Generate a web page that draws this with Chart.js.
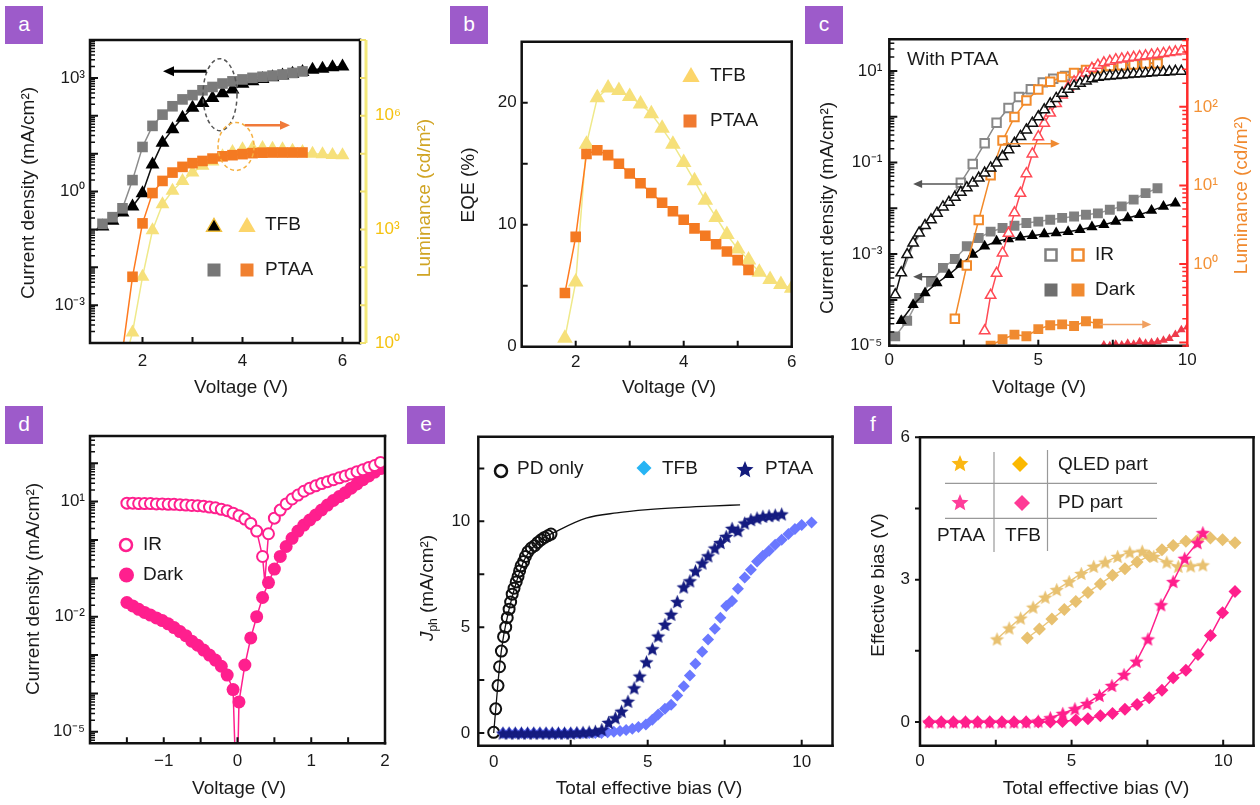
<!DOCTYPE html>
<html>
<head>
<meta charset="utf-8">
<title>QLED / PD device characteristics</title>
<script src="https://cdn.jsdelivr.net/npm/chart.js@4.4.1/dist/chart.umd.min.js"></script>
<style>
  body { margin: 0; width: 1260px; height: 805px; position: relative; overflow: hidden; background: #fff; font-family: "Liberation Sans", Arial, sans-serif; }
  canvas { position: absolute; }
  .tag { position: absolute; width: 38px; height: 38px; background: #9d5bca; color: #fff; font-size: 21px; line-height: 35px; text-align: center; }
</style>
</head>
<body>
<div class="tag" style="left:5px;top:6px">a</div>
<div class="tag" style="left:450px;top:6px">b</div>
<div class="tag" style="left:805px;top:6px">c</div>
<div class="tag" style="left:5px;top:406px">d</div>
<div class="tag" style="left:407px;top:406px">e</div>
<div class="tag" style="left:854px;top:406px">f</div>
<script>
// ---- panel a: J-V-L ----
const aV_PTAA = [1.2,1.4,1.6,1.8,2.0,2.2,2.4,2.6,2.8,3.0,3.2,3.4,3.6,3.8,4.0,4.2,4.4,4.6,4.8,5.0,5.2];
const aJ_PTAA = [0.14,0.21,0.36,2.0,15,54,107,178,270,350,470,575,710,810,910,1000,1070,1150,1230,1350,1480];
const aV_TFB = [1.2,1.4,1.6,1.8,2.0,2.2,2.4,2.6,2.8,3.0,3.2,3.4,3.6,3.8,4.0,4.2,4.4,4.6,4.8,5.0,5.2,5.4,5.6,5.8,6.0];
const aJ_TFB = [0.12,0.17,0.28,0.4,0.9,5.2,19.5,44,89,162,218,295,390,490,700,820,930,1040,1150,1280,1420,1650,1750,1900,2000];
const aVL_PTAA = [1.6,1.8,2.0,2.2,2.4,2.6,2.8,3.0,3.2,3.4,3.6,3.8,4.0,4.2,4.4,4.6,4.8,5.0,5.2];
const aL_PTAA = [0.6,56,1440,9100,19000,31600,44700,56000,64000,74000,85000,91000,97000,103000,106000,107000,107000,107000,107000];
const aVL_TFB = [1.6,1.8,2.0,2.2,2.4,2.6,2.8,3.0,3.2,3.4,3.6,3.8,4.0,4.2,4.4,4.6,4.8,5.0,5.2,5.4,5.6,5.8,6.0];
const aL_TFB = [0.2,1.9,56,950,4600,10500,19000,31600,48000,62000,85000,110000,130000,140000,140000,135000,130000,120000,110000,100000,97000,92000,90000];

// ---- panel b: EQE ----
const bV_TFB = [1.8,2.0,2.2,2.4,2.6,2.8,3.0,3.2,3.4,3.6,3.8,4.0,4.2,4.4,4.6,4.8,5.0,5.2,5.4,5.6,5.8,6.0];
const bEQE_TFB = [0.7,5.3,16.6,20.4,21.2,21.0,20.5,19.9,19.1,17.9,16.6,15.1,13.6,12.0,10.6,9.2,8.0,7.1,6.1,5.5,5.1,4.8];
const bV_PTAA = [1.8,2.0,2.2,2.4,2.6,2.8,3.0,3.2,3.4,3.6,3.8,4.0,4.2,4.4,4.6,4.8,5.0,5.2];
const bEQE_PTAA = [4.4,9.0,15.8,16.1,15.7,15.0,14.2,13.4,12.6,11.8,11.1,10.4,9.7,9.1,8.4,7.8,7.1,6.3];

// ---- panel c: with PTAA, IR / dark ----
const cV_IR_TFB = [0.2,0.4,0.6,0.8,1.0,1.2,1.4,1.6,1.8,2.0,2.2,2.4,2.6,2.8,3.0,3.2,3.4,3.6,3.8,4.0,4.2,4.4,4.6,4.8,5.0,5.2,5.4,5.6,5.8,6.0,6.2,6.4,6.6,6.8,7.0,7.2,7.4,7.6,7.8,8.0,8.2,8.4,8.6,8.8,9.0,9.2,9.4,9.6,9.8];
const cJ_IR_TFB = [1.29e-4,3.9e-4,9.8e-4,1.74e-3,2.9e-3,4.2e-3,5.6e-3,7.8e-3,0.0107,0.0135,0.0174,0.0224,0.0282,0.0355,0.0457,0.0589,0.0759,0.0977,0.135,0.191,0.263,0.372,0.513,0.724,1.0,1.41,1.91,2.51,3.24,3.98,4.68,5.37,6.03,6.76,7.24,7.59,7.76,7.94,8.13,8.32,8.51,8.71,8.91,9.12,9.33,9.33,9.55,9.77,9.77];
const cV_IR_PTAA = [0.4,0.8,1.2,1.6,2.0,2.4,2.8,3.2,3.6,4.0,4.35,4.75,5.15,5.5,5.9,6.3,6.65,7.05,7.45,7.85,8.25,8.6,9.0];
const cJ_IR_PTAA = [3.5e-4,1.6e-3,4.0e-3,7.6e-3,0.0141,0.0363,0.0933,0.263,0.741,1.55,2.69,3.98,5.62,6.76,7.76,8.91,10.0,11.5,12.3,13.2,14.1,14.8,15.1];
const cVL_IR_PTAA = [2.2,2.6,3.0,3.4,3.8,4.2,4.6,5.0,5.4,5.8,6.2,6.6,7.0,7.4,7.8,8.2,8.6,9.0];
const cL_IR_PTAA = [0.2,0.955,3.63,13.5,37.2,74.1,120,166,209,240,269,295,309,331,339,347,355,355];
const cVL_IR_TFB = [3.2,3.4,3.6,3.8,4.0,4.2,4.4,4.6,4.8,5.0,5.2,5.4,5.6,5.8,6.0,6.2,6.4,6.6,6.8,7.0,7.2,7.4,7.6,7.8,8.0,8.2,8.4,8.6,8.8,9.0,9.2,9.4,9.6,9.8];
const cL_IR_TFB = [0.141,0.398,0.759,1.38,2.45,4.47,7.94,14.1,25.1,41.7,61.7,83.2,110,141,178,209,240,269,309,339,363,380,398,407,417,427,437,447,457,468,479,490,501,513];
const cV_Dark_PTAA = [0.2,0.6,1.0,1.4,1.8,2.2,2.6,3.0,3.4,3.8,4.2,4.6,5.0,5.4,5.8,6.2,6.6,7.0,7.4,7.8,8.2,8.6,9.0];
const cJ_Dark_PTAA = [1.6e-5,3.5e-5,1.1e-4,2.5e-4,5.0e-4,7.8e-4,1.48e-3,2.24e-3,3.09e-3,3.72e-3,4.17e-3,4.79e-3,5.13e-3,5.62e-3,6.17e-3,6.61e-3,7.24e-3,7.76e-3,9.33e-3,0.011,0.0155,0.0214,0.0275];
const cV_Dark_TFB = [0.4,0.8,1.2,1.6,2.0,2.4,2.8,3.2,3.6,4.0,4.4,4.8,5.2,5.6,6.0,6.4,6.8,7.2,7.6,8.0,8.4,8.8,9.2,9.6];
const cJ_Dark_TFB = [3.5e-5,7.8e-5,1.41e-4,2.34e-4,3.55e-4,5.9e-4,9.8e-4,1.48e-3,1.91e-3,2.14e-3,2.34e-3,2.51e-3,2.75e-3,2.88e-3,3.09e-3,3.39e-3,3.89e-3,4.37e-3,5.13e-3,6.17e-3,7.24e-3,8.91e-3,0.011,0.0129];
const cVL_Dark_PTAA = [3.4,3.8,4.2,4.6,5.0,5.4,5.8,6.2,6.6,7.0];
const cL_Dark_PTAA = [0.091,0.11,0.126,0.12,0.148,0.166,0.17,0.162,0.186,0.174];
const cVL_Dark_TFB = [7.2,7.4,7.6,7.8,8.0,8.2,8.4,8.6,8.8,9.0,9.2,9.4,9.6,9.8,10.0];
const cL_Dark_TFB = [0.093,0.091,0.095,0.093,0.098,0.095,0.102,0.098,0.1,0.102,0.107,0.112,0.126,0.145,0.158];

// ---- panel d: PD J-V ----
const dV = [-1.5,-1.42,-1.34,-1.26,-1.18,-1.1,-1.02,-0.94,-0.86,-0.78,-0.7,-0.62,-0.54,-0.46,-0.38,-0.3,-0.22,-0.14,-0.06,0.02,0.1,0.18,0.26,0.34,0.42,0.5,0.58,0.66,0.74,0.82,0.9,0.98,1.06,1.14,1.22,1.3,1.38,1.46,1.54,1.62,1.7,1.78,1.86,1.94];
const dJ_IR = [9.1,9.1,8.9,8.9,8.9,8.7,8.7,8.5,8.5,8.3,8.1,7.9,7.8,7.6,7.2,6.9,6.3,5.8,5.0,4.3,3.5,2.7,1.7,0.37,1.45,3.7,6.0,8.7,11.7,14.8,18.6,22.4,25.7,29.5,33.1,37.2,41.7,46.8,52.5,60.3,67.6,77.6,87.1,105];
const dJ_Dark = [0.0234,0.0191,0.0155,0.0129,0.011,0.0093,0.0079,0.0065,0.0052,0.0041,0.0032,0.0023,0.0018,0.00135,0.001,0.00074,0.00051,0.0003,0.000126,0.00006,0.00055,0.0028,0.01,0.0316,0.0776,0.174,0.372,0.676,1.10,1.70,2.45,3.31,4.47,6.03,8.13,10.7,13.5,17.0,22.4,28.8,37.2,46.8,58.9,72.4];
const dIR_min = { x: 0.37, y: 0.08 };
const dDark_min = { x: -0.01, y: 1e-7 };

// ---- panel e: photocurrent ----
const ePD_V = [0,0.065,0.14,0.19,0.25,0.32,0.39,0.44,0.5,0.55,0.6,0.66,0.73,0.79,0.84,0.89,0.97,1.03,1.11,1.22,1.33,1.43,1.54,1.65,1.76,1.86];
const ePD_J = [0.03,1.14,2.24,3.13,3.87,4.55,5.0,5.45,5.85,6.19,6.56,6.84,7.14,7.39,7.66,7.9,8.1,8.34,8.56,8.74,8.85,9.0,9.13,9.24,9.32,9.4];
const eFit_V = [0,0.1,0.2,0.3,0.5,0.75,1.0,1.5,2.0,3.0,4.0,5.0,6.0,7.0,8.0];
const eFit_J = [0,1.7,3.3,4.4,5.85,7.2,8.2,9.1,9.5,10.15,10.4,10.55,10.65,10.72,10.78];
const ePTAA_V = [0.3,0.5,0.7,0.9,1.1,1.3,1.5,1.7,1.9,2.1,2.3,2.5,2.7,2.9,3.1,3.3,3.51,3.73,3.95,4.15,4.36,4.56,4.74,4.96,5.15,5.34,5.56,5.76,5.96,6.17,6.37,6.55,6.77,6.96,7.18,7.36,7.55,7.74,7.93,8.15,8.35,8.55,8.74,8.94,9.14,9.35];
const ePTAA_J = [0,0,0,0,0,0,0,0,0,0,0,0,0.02,0.03,0.05,0.08,0.16,0.5,0.72,1.03,1.5,2.13,2.69,3.36,3.98,4.58,5.13,5.61,6.21,6.9,7.19,7.66,8.03,8.37,8.74,9.0,9.29,9.67,9.56,9.92,10.08,10.16,10.24,10.27,10.3,10.35];
const eTFB_V = [0.3,0.5,0.7,0.9,1.1,1.3,1.5,1.7,1.9,2.1,2.3,2.5,2.7,2.9,3.1,3.3,3.5,3.7,3.9,4.1,4.3,4.5,4.7,4.94,5.15,5.34,5.56,5.76,5.96,6.17,6.37,6.55,6.77,6.96,7.18,7.36,7.55,7.74,7.93,8.15,8.35,8.55,8.74,8.94,9.14,9.35,9.57,9.78,10.0,10.32];
const eTFB_J = [0,0,0,0,0,0,0,0,0,0,0,0,0,0,0,0,0,0.03,0.06,0.1,0.14,0.2,0.28,0.4,0.63,0.87,1.14,1.34,1.77,2.21,2.72,3.27,3.84,4.42,4.93,5.45,6.0,6.24,6.82,7.35,7.71,8.1,8.37,8.61,8.89,9.13,9.4,9.64,9.83,9.95];

// ---- panel f: effective bias split ----
const fQ_PTAA_V = [2.54,2.94,3.32,3.73,4.13,4.51,4.92,5.32,5.73,6.11,6.52,6.92,7.33,7.71,8.14,8.52,8.93,9.33];
const fQ_PTAA_B = [1.75,1.98,2.19,2.42,2.63,2.79,2.96,3.13,3.28,3.37,3.49,3.58,3.6,3.49,3.37,3.28,3.29,3.31];
const fQ_TFB_V = [3.54,3.94,4.35,4.76,5.14,5.54,5.95,6.35,6.76,7.16,7.56,7.98,8.35,8.77,9.17,9.58,9.98,10.39];
const fQ_TFB_B = [1.77,1.96,2.17,2.37,2.54,2.73,2.91,3.09,3.23,3.37,3.5,3.63,3.72,3.81,3.84,3.88,3.84,3.78];
const fP_PTAA_V = [0.3,0.7,1.1,1.5,1.9,2.3,2.7,3.1,3.5,3.9,4.3,4.71,5.11,5.51,5.92,6.33,6.73,7.14,7.52,7.95,8.35,8.73,9.15,9.33];
const fP_PTAA_B = [0,0,0,0,0,0,0,0,0,0.02,0.09,0.18,0.28,0.39,0.56,0.77,1.0,1.28,1.75,2.47,2.96,3.45,3.78,3.99];
const fP_TFB_V = [0.3,0.7,1.1,1.5,1.9,2.3,2.7,3.1,3.5,3.9,4.3,4.7,5.14,5.54,5.95,6.35,6.76,7.16,7.56,7.98,8.35,8.77,9.17,9.58,9.98,10.39];
const fP_TFB_B = [0,0,0,0,0,0,0,0,0,0,0,0.01,0.04,0.07,0.13,0.18,0.27,0.37,0.51,0.67,0.93,1.09,1.42,1.82,2.3,2.75];

const FONT = '"Liberation Sans", Arial, sans-serif';
const ink = '#1a1a1a';
Chart.defaults.font.family = FONT;
Chart.defaults.color = ink;

function sup(n) {
  const m = { '-': '\u207b', '0': '\u2070', '1': '\u00b9', '2': '\u00b2', '3': '\u00b3', '4': '\u2074', '5': '\u2075', '6': '\u2076', '7': '\u2077', '8': '\u2078', '9': '\u2079' };
  return String(n).split('').map(c => m[c]).join('');
}
function decades(a, b) { const out = []; for (let e = a; e <= b; e++) out.push(Math.pow(10, e)); return out; }
function minors(a, b) { const out = []; for (let e = a; e <= b; e++) for (let k = 2; k < 10; k++) out.push(k * Math.pow(10, e)); return out; }
function pts(xs, ys) { return xs.map((x, i) => ({ x: x, y: ys[i] })); }

function series(xs, ys, o) {
  return Object.assign({ data: pts(xs, ys), showLine: true, borderWidth: 1.5, pointRadius: 5, pointBorderWidth: 0 }, o);
}

function starPath(g, x, y, R) {
  g.beginPath();
  for (let i = 0; i < 10; i++) {
    const r = i % 2 ? R * 0.45 : R;
    const t = -Math.PI / 2 + i * Math.PI / 5;
    g.lineTo(x + r * Math.cos(t), y + r * Math.sin(t));
  }
  g.closePath();
}
function starImg(color, R) {
  const c = document.createElement('canvas');
  const s = Math.ceil(2 * R + 2);
  c.width = s; c.height = s;
  const g = c.getContext('2d');
  starPath(g, s / 2, s / 2 + R * 0.1, R);
  g.fillStyle = color;
  g.fill();
  return c;
}

function axis(o, pos, size) {
  return {
    type: o.log ? 'logarithmic' : 'linear',
    position: pos, min: o.min, max: o.max,
    grid: { display: false, drawTicks: false },
    border: { display: false },
    ticks: {
      padding: o.pad, color: o.color || ink, font: { size: 17 },
      autoSkip: false, maxRotation: 0, minRotation: 0,
      callback: o.log
        ? function (v) { const e = Math.round(Math.log10(v)); return o.labels.includes(e) ? '10' + sup(e) : ''; }
        : function (v) { return o.labels.includes(v) ? String(v).replace('-', '\u2212') : ''; }
    },
    afterBuildTicks: s => { s.ticks = o.ticks.map(v => ({ value: v })); },
    afterFit: s => { if (s.isHorizontal()) s.height = size; else s.width = size; }
  };
}

function richText(ctx, parts, x, y, rot, size, color, align) {
  ctx.save();
  ctx.translate(x, y);
  if (rot) ctx.rotate(-Math.PI / 2);
  ctx.fillStyle = color || ink;
  ctx.textBaseline = 'middle';
  ctx.textAlign = 'left';
  const fonts = parts.map(p => (p.i ? 'italic ' : '') + (p.sub ? Math.round(size * 0.62) : size) + 'px ' + FONT);
  let w = 0;
  parts.forEach((p, k) => { ctx.font = fonts[k]; w += ctx.measureText(p.t).width; });
  let cx = align === 'left' ? 0 : -w / 2;
  parts.forEach((p, k) => {
    ctx.font = fonts[k];
    ctx.fillText(p.t, cx, p.sub ? size * 0.3 : 0);
    cx += ctx.measureText(p.t).width;
  });
  ctx.restore();
}

function arrow(ctx, x1, y1, x2, y2, color, w, head) {
  const ang = Math.atan2(y2 - y1, x2 - x1), c = Math.cos(ang), s = Math.sin(ang);
  ctx.strokeStyle = color; ctx.fillStyle = color; ctx.lineWidth = w;
  ctx.beginPath(); ctx.moveTo(x1, y1); ctx.lineTo(x2 - c * head * 0.8, y2 - s * head * 0.8); ctx.stroke();
  ctx.beginPath(); ctx.moveTo(x2, y2);
  ctx.lineTo(x2 - head * c + head * 0.45 * s, y2 - head * s - head * 0.45 * c);
  ctx.lineTo(x2 - head * c - head * 0.45 * s, y2 - head * s + head * 0.45 * c);
  ctx.closePath(); ctx.fill();
}

function marker(ctx, m, ox, oy) {
  const x = m.x - ox, y = m.y - oy, r = m.r;
  ctx.beginPath();
  if (m.k === 'tri') { ctx.moveTo(x, y - r); ctx.lineTo(x + r * 0.866, y + r * 0.5); ctx.lineTo(x - r * 0.866, y + r * 0.5); ctx.closePath(); }
  else if (m.k === 'sq') ctx.rect(x - r, y - r, 2 * r, 2 * r);
  else if (m.k === 'dia') { ctx.moveTo(x, y - r); ctx.lineTo(x + r, y); ctx.lineTo(x, y + r); ctx.lineTo(x - r, y); ctx.closePath(); }
  else if (m.k === 'circ') ctx.arc(x, y, r, 0, 2 * Math.PI);
  else if (m.k === 'star') starPath(ctx, x, y, r);
  if (m.fill) { ctx.fillStyle = m.fill; ctx.fill(); }
  if (m.stroke) { ctx.strokeStyle = m.stroke; ctx.lineWidth = m.lw || 2; ctx.stroke(); }
}

function deco(spec, box) {
  return {
    id: 'deco',
    afterDatasetsDraw(chart) {
      const ctx = chart.ctx, a = chart.chartArea, ox = box[0], oy = box[1];
      ctx.save();
      (spec.ellipses || []).forEach(e => {
        const px = chart.scales.x.getPixelForValue(e.x), py = chart.scales[e.ys].getPixelForValue(e.y);
        ctx.setLineDash([4, 3]); ctx.lineWidth = 1.5; ctx.strokeStyle = e.color;
        ctx.beginPath(); ctx.ellipse(px, py, e.rx, e.ry, 0, 0, 2 * Math.PI); ctx.stroke();
        ctx.setLineDash([]);
      });
      (spec.arrows || []).forEach(r => {
        const sy = chart.scales[r.ys], sx = chart.scales.x;
        const py = sy.getPixelForValue(r.y);
        arrow(ctx, sx.getPixelForValue(r.x1), py, sx.getPixelForValue(r.x2), py, r.color, r.w || 1.5, r.head || 8);
      });
      // frame
      const f = spec.frame;
      ctx.lineCap = 'square';
      ctx.lineWidth = f.w; ctx.strokeStyle = '#111';
      ctx.beginPath(); ctx.moveTo(a.right, a.top); ctx.lineTo(a.left, a.top); ctx.lineTo(a.left, a.bottom); ctx.lineTo(a.right, a.bottom); ctx.stroke();
      ctx.strokeStyle = f.right || '#111';
      ctx.beginPath(); ctx.moveTo(a.right, a.top); ctx.lineTo(a.right, a.bottom); ctx.stroke();
      if (f.extra) {
        ctx.strokeStyle = f.extra.color; ctx.lineWidth = f.extra.w; ctx.lineCap = 'butt';
        ctx.beginPath(); ctx.moveTo(a.right + f.extra.dx, a.top); ctx.lineTo(a.right + f.extra.dx, a.bottom); ctx.stroke();
      }
      ctx.lineCap = 'butt';
      // tick marks
      (spec.marks || []).forEach(m => {
        const s = chart.scales[m.scale];
        ctx.strokeStyle = m.color || '#111'; ctx.lineWidth = m.w || 2;
        ctx.beginPath();
        m.vals.forEach(v => {
          const p = s.getPixelForValue(v);
          if (m.edge === 'bottom') {
            if (p < a.left - 1 || p > a.right + 1) return;
            const sg = m.dir === 'out' ? 1 : -1;
            ctx.moveTo(p, a.bottom); ctx.lineTo(p, a.bottom + sg * m.len);
          } else {
            if (p < a.top - 1 || p > a.bottom + 1) return;
            const x0 = m.edge === 'left' ? a.left : a.right + (m.dx || 0);
            const sg = (m.edge === 'left') === (m.dir !== 'out') ? 1 : -1;
            ctx.moveTo(x0, p); ctx.lineTo(x0 + sg * m.len, p);
          }
        });
        ctx.stroke();
      });
      (spec.rules || []).forEach(l => {
        ctx.strokeStyle = l.color; ctx.lineWidth = l.w;
        ctx.beginPath(); ctx.moveTo(l.x1 - ox, l.y1 - oy); ctx.lineTo(l.x2 - ox, l.y2 - oy); ctx.stroke();
      });
      (spec.legend || []).forEach(m => marker(ctx, m, ox, oy));
      (spec.texts || []).forEach(t => richText(ctx, t.parts || [{ t: t.t }], t.x - ox, t.y - oy, t.rot, t.size || 19, t.color, t.align));
      ctx.restore();
    }
  };
}

function panel(box, area, cfg) {
  const cv = document.createElement('canvas');
  cv.width = box[2]; cv.height = box[3];
  cv.style.left = box[0] + 'px'; cv.style.top = box[1] + 'px';
  document.body.appendChild(cv);
  const scales = {
    x: axis(cfg.x, 'bottom', box[1] + box[3] - area[3]),
    y: axis(cfg.y, 'left', area[0] - box[0])
  };
  let padRight = box[0] + box[2] - area[2];
  if (cfg.y2) { scales.y2 = axis(cfg.y2, 'right', padRight); padRight = 0; }
  return new Chart(cv, {
    type: 'scatter',
    data: { datasets: cfg.datasets },
    options: {
      responsive: false, animation: false, events: [],
      layout: { padding: { top: area[1] - box[1], right: padRight, left: 0, bottom: 0 } },
      plugins: { legend: { display: false }, tooltip: { enabled: false } },
      scales: scales
    },
    plugins: [deco(cfg.deco, box)]
  });
}

const title = (t, x, y, rot, color) => ({ t: t, x: x, y: y, rot: rot, color: color });
const logMarks = (scale, edge, a, b, color, dx) => [
  { scale: scale, edge: edge, vals: decades(a, b), len: 8, w: 2, color: color, dx: dx },
  { scale: scale, edge: edge, vals: minors(a - 1, b), len: 5, w: 1.5, color: color, dx: dx }
];

// ---------- a ----------
panel([0, 0, 440, 400], [90, 40, 360, 343], {
  x: { min: 0.95, max: 6.35, ticks: [1, 2, 3, 4, 5, 6], labels: [2, 4, 6], pad: 8 },
  y: { log: true, min: 1e-4, max: 1e4, ticks: decades(-4, 4), labels: [-3, 0, 3], pad: 5 },
  y2: { log: true, min: 1, max: 1e8, ticks: decades(0, 8), labels: [0, 3, 6], pad: 15, color: '#f5c20f' },
  datasets: [
    series(aV_PTAA, aJ_PTAA, { borderColor: '#8c8c8c', pointStyle: 'rect', pointRadius: 7.5, pointBackgroundColor: '#7b7b7b', pointBorderColor: '#7b7b7b' }),
    series(aVL_PTAA, aL_PTAA, { yAxisID: 'y2', borderColor: '#ff7a1f', pointStyle: 'rect', pointRadius: 7.5, pointBackgroundColor: '#f47a22', pointBorderColor: '#f47a22' }),
    series(aV_TFB, aJ_TFB, { borderColor: '#111', pointStyle: 'triangle', pointRadius: 8, pointBackgroundColor: '#000', pointBorderColor: '#000' }),
    series(aVL_TFB, aL_TFB, { yAxisID: 'y2', borderColor: '#efe98a', pointStyle: 'triangle', pointRadius: 8, pointBackgroundColor: '#f6e07a', pointBorderColor: '#f6e07a' })
  ],
  deco: {
    frame: { w: 2.5, extra: { dx: 6, color: '#f3e97a', w: 3 } },
    marks: logMarks('y', 'left', -4, 4).concat([
      { scale: 'x', edge: 'bottom', vals: [2, 3, 4, 5, 6], len: 6 },
      { scale: 'y2', edge: 'right', dx: 6, vals: decades(0, 8), len: 6, w: 2, color: '#f0e070' }
    ]),
    ellipses: [
      { ys: 'y', x: 3.55, y: 360, rx: 17, ry: 36, color: '#555' },
      { ys: 'y2', x: 3.87, y: 1.55e5, rx: 18, ry: 24, color: '#f5b041' }
    ],
    arrows: [
      { ys: 'y', x1: 3.28, x2: 2.41, y: 1490, color: '#000', w: 3, head: 11 },
      { ys: 'y2', x1: 4.05, x2: 4.95, y: 5.6e5, color: '#f07a3a', w: 2.5, head: 10 }
    ],
    legend: [
      { k: 'tri', x: 214, y: 227, r: 8.5, fill: '#000', stroke: '#f0c040', lw: 1.5 },
      { k: 'tri', x: 247, y: 227, r: 10, fill: '#fcd56a' },
      { k: 'sq', x: 214, y: 270, r: 6.5, fill: '#777' },
      { k: 'sq', x: 247, y: 270, r: 6.5, fill: '#f08030' }
    ],
    texts: [
      { t: 'TFB', x: 265, y: 225, align: 'left' },
      { t: 'PTAA', x: 265, y: 270, align: 'left' },
      title('Current density (mA/cm\u00b2)', 29, 193, true),
      title('Luminance (cd/m\u00b2)', 425, 198, true, '#d0a424'),
      title('Voltage (V)', 241, 388)
    ]
  }
});

// ---------- b ----------
panel([420, 0, 400, 400], [521.7, 41.7, 791.7, 346.7], {
  x: { min: 1, max: 6, ticks: [1, 2, 3, 4, 5, 6], labels: [2, 4, 6], pad: 5 },
  y: { min: 0, max: 25, ticks: [0, 5, 10, 15, 20, 25], labels: [0, 10, 20], pad: 5 },
  datasets: [
    series(bV_PTAA, bEQE_PTAA, { borderColor: '#ff7a1f', pointStyle: 'rect', pointRadius: 7.5, pointBackgroundColor: '#f47a22', pointBorderColor: '#f47a22' }),
    series(bV_TFB, bEQE_TFB, { borderColor: '#efe98a', pointStyle: 'triangle', pointRadius: 9, pointBackgroundColor: '#f6e07a', pointBorderColor: '#f6e07a' })
  ],
  deco: {
    frame: { w: 2.5 },
    marks: [
      { scale: 'x', edge: 'bottom', vals: [2, 3, 4, 5], len: 6 },
      { scale: 'y', edge: 'left', vals: [5, 10, 15, 20], len: 6 }
    ],
    legend: [
      { k: 'tri', x: 691, y: 77, r: 10, fill: '#fcd56a' },
      { k: 'sq', x: 690, y: 121, r: 6.5, fill: '#f07a30' }
    ],
    texts: [
      { t: 'TFB', x: 710, y: 76, align: 'left' },
      { t: 'PTAA', x: 710, y: 121, align: 'left' },
      title('EQE (%)', 469, 185, true),
      title('Voltage (V)', 669, 388)
    ]
  }
});

// ---------- c ----------
panel([820, 0, 440, 400], [889.3, 39.3, 1187.3, 345.7], {
  x: { min: 0, max: 10, ticks: [0, 2.5, 5, 7.5, 10], labels: [0, 5, 10], pad: 4 },
  y: { log: true, min: 1e-5, max: 49, ticks: decades(-5, 1), labels: [-5, -3, -1, 1], pad: 7 },
  y2: { log: true, min: 0.091, max: 724, ticks: decades(-1, 2), labels: [0, 1, 2], pad: 6, color: '#f39237' },
  datasets: [
    series(cV_IR_TFB, cJ_IR_TFB, { borderColor: '#111', pointStyle: 'triangle', pointRadius: 6, pointBorderWidth: 1.5, pointBackgroundColor: '#fff', pointBorderColor: '#111' }),
    series(cVL_IR_TFB, cL_IR_TFB, { yAxisID: 'y2', borderColor: '#ff4a55', pointStyle: 'triangle', pointRadius: 6, pointBorderWidth: 1.5, pointBackgroundColor: '#fff', pointBorderColor: '#ff4a55' }),
    series(cVL_IR_PTAA, cL_IR_PTAA, { yAxisID: 'y2', borderColor: '#f28a2a', pointStyle: 'rect', pointRadius: 6, pointBorderWidth: 2, pointBackgroundColor: '#fff', pointBorderColor: '#f28a2a' }),
    series(cV_IR_PTAA, cJ_IR_PTAA, { borderColor: '#888', pointStyle: 'rect', pointBorderWidth: 2, pointBackgroundColor: '#fff', pointBorderColor: '#888',
      pointRadius: c => (c.raw && c.raw.x < 2.3 ? 0 : 6) }),
    series(cV_Dark_TFB, cJ_Dark_TFB, { borderColor: '#111', pointStyle: 'triangle', pointRadius: 6.5, pointBackgroundColor: '#000', pointBorderColor: '#000' }),
    series(cV_Dark_PTAA, cJ_Dark_PTAA, { borderColor: '#999', pointStyle: 'rect', pointRadius: 7, pointBackgroundColor: '#808080', pointBorderColor: '#808080' }),
    series(cVL_Dark_PTAA, cL_Dark_PTAA, { yAxisID: 'y2', borderColor: '#f28a2a', pointStyle: 'rect', pointRadius: 7, pointBackgroundColor: '#f08a30', pointBorderColor: '#f08a30' }),
    series(cVL_Dark_TFB, cL_Dark_TFB, { yAxisID: 'y2', borderColor: '#ff4a55', pointStyle: 'triangle', pointRadius: 5, pointBackgroundColor: '#ee3b4b', pointBorderColor: '#ee3b4b' })
  ],
  deco: {
    frame: { w: 2.5, right: '#ff2a2a' },
    marks: logMarks('y', 'left', -5, 1).concat(logMarks('y2', 'right', -1, 2, '#ff2a2a'), [
      { scale: 'x', edge: 'bottom', vals: [2.5, 5, 7.5], len: 6 }
    ]),
    arrows: [
      { ys: 'y', x1: 2.48, x2: 0.8, y: 0.034, color: '#555', w: 1.5, head: 9 },
      { ys: 'y', x1: 1.59, x2: 0.8, y: 3.2e-4, color: '#555', w: 1.5, head: 9 },
      { ys: 'y2', x1: 3.82, x2: 5.72, y: 34, color: '#f08a30', w: 1.5, head: 9 },
      { ys: 'y2', x1: 7.06, x2: 8.79, y: 0.17, color: '#f0a060', w: 1.5, head: 9 }
    ],
    legend: [
      { k: 'sq', x: 1051, y: 255, r: 5.5, fill: '#fff', stroke: '#808080', lw: 2.5 },
      { k: 'sq', x: 1078, y: 255, r: 5.5, fill: '#fff', stroke: '#f08a30', lw: 2.5 },
      { k: 'sq', x: 1051, y: 290, r: 6.5, fill: '#6f6f6f' },
      { k: 'sq', x: 1078, y: 290, r: 6.5, fill: '#f08a30' }
    ],
    texts: [
      { t: 'IR', x: 1095, y: 255, align: 'left' },
      { t: 'Dark', x: 1095, y: 290, align: 'left' },
      { t: 'With PTAA', x: 907, y: 60, align: 'left' },
      title('Current density (mA/cm\u00b2)', 828, 208, true),
      title('Luminance (cd/m\u00b2)', 1242, 195, true, '#f0892e'),
      title('Voltage (V)', 1039, 388)
    ]
  }
});

// ---------- d ----------
const dIRpts = pts(dV, dJ_IR).concat([dIR_min]).sort((p, q) => p.x - q.x);
const dDarkPts = pts(dV, dJ_Dark).concat([dDark_min]).sort((p, q) => p.x - q.x);
panel([0, 400, 420, 405], [90, 436, 385, 743.3], {
  x: { min: -2, max: 2, ticks: [-1.5, -1, -0.5, 0, 0.5, 1, 1.5, 2], labels: [-1, 0, 1, 2], pad: 8 },
  y: { log: true, min: 5.0e-6, max: 513, ticks: decades(-5, 2), labels: [-5, -2, 1], pad: 5 },
  datasets: [
    { data: dIRpts, showLine: true, borderWidth: 1.5, borderColor: '#ff1f8e', pointStyle: 'circle', pointBorderWidth: 2,
      pointBackgroundColor: '#fff', pointBorderColor: '#ff1f8e', pointRadius: c => (c.raw === dIR_min ? 0 : 5.5) },
    { data: dDarkPts, showLine: true, borderWidth: 1.5, borderColor: '#ff1f8e', pointStyle: 'circle', pointBorderWidth: 0,
      pointBackgroundColor: '#ff1f8e', pointBorderColor: '#ff1f8e', pointRadius: c => (c.raw === dDark_min ? 0 : 6.5) }
  ],
  deco: {
    frame: { w: 2.5 },
    marks: logMarks('y', 'left', -6, 2).concat([
      { scale: 'x', edge: 'bottom', vals: [-1.5, -1, -0.5, 0, 0.5, 1, 1.5], len: 6 }
    ]),
    legend: [
      { k: 'circ', x: 126, y: 545, r: 6, fill: '#fff', stroke: '#ff1f8e', lw: 2.5 },
      { k: 'circ', x: 126.5, y: 575, r: 7.5, fill: '#ff1f8e' }
    ],
    texts: [
      { t: 'IR', x: 143, y: 545, align: 'left' },
      { t: 'Dark', x: 143, y: 575, align: 'left' },
      title('Current density (mA/cm\u00b2)', 34, 589, true),
      title('Voltage (V)', 239, 789)
    ]
  }
});

// ---------- e ----------
panel([420, 400, 420, 405], [478.3, 436.7, 833.3, 745.7], {
  x: { min: -0.5, max: 11, ticks: [0, 2.5, 5, 7.5, 10], labels: [0, 5, 10], pad: 6 },
  y: { min: -0.6, max: 14, ticks: [0, 2.5, 5, 7.5, 10, 12.5], labels: [0, 5, 10], pad: 8 },
  datasets: [
    series(ePTAA_V, ePTAA_J, { showLine: false, pointStyle: starImg('#141b80', 7.5), pointRadius: 5 }),
    series(eTFB_V, eTFB_J, { showLine: false, pointStyle: 'rectRot', pointRadius: 6, pointBackgroundColor: '#6a78ff', pointBorderColor: '#6a78ff' }),
    series(ePD_V, ePD_J, { showLine: false, pointStyle: 'circle', pointRadius: 5.5, pointBorderWidth: 2, pointBackgroundColor: 'rgba(255,255,255,0)', pointBorderColor: '#111' }),
    series(eFit_V, eFit_J, { borderColor: '#111', borderWidth: 1.3, pointRadius: 0, cubicInterpolationMode: 'monotone' })
  ],
  deco: {
    frame: { w: 2.5 },
    marks: [
      { scale: 'x', edge: 'bottom', vals: [2.5, 5, 7.5, 10], len: 6 },
      { scale: 'y', edge: 'left', vals: [0, 2.5, 5, 7.5, 10, 12.5], len: 6 }
    ],
    legend: [
      { k: 'circ', x: 501, y: 471, r: 6, stroke: '#111', lw: 2.5 },
      { k: 'dia', x: 644, y: 468, r: 7.5, fill: '#27b4f4' },
      { k: 'star', x: 745, y: 470, r: 9, fill: '#131b7c' }
    ],
    texts: [
      { t: 'PD only', x: 517, y: 469, align: 'left' },
      { t: 'TFB', x: 662, y: 469, align: 'left' },
      { t: 'PTAA', x: 765, y: 469, align: 'left' },
      { parts: [{ t: 'J', i: true }, { t: 'ph', sub: true }, { t: ' (mA/cm\u00b2)' }], x: 428, y: 588, rot: true },
      title('Total effective bias (V)', 649, 789)
    ]
  }
});

// ---------- f ----------
panel([840, 400, 420, 405], [920, 437.3, 1258.3, 745.7], {
  x: { min: 0, max: 11, ticks: [0, 2.5, 5, 7.5, 10], labels: [0, 5, 10], pad: 5 },
  y: { min: -0.5, max: 6, ticks: [0, 1.5, 3, 4.5, 6], labels: [0, 3, 6], pad: 10 },
  datasets: [
    series(fP_PTAA_V, fP_PTAA_B, { borderColor: '#ff1f8c', pointStyle: starImg('#ff1f8c', 7.5), pointRadius: 5 }),
    series(fP_TFB_V, fP_TFB_B, { borderColor: '#ff1f8c', pointStyle: 'rectRot', pointRadius: 6.5, pointBackgroundColor: '#ff1f8c', pointBorderColor: '#ff1f8c' }),
    series(fQ_PTAA_V, fQ_PTAA_B, { borderColor: '#e9c57a', pointStyle: starImg('#e8c170', 7.5), pointRadius: 5 }),
    series(fQ_TFB_V, fQ_TFB_B, { borderColor: '#e9c57a', pointStyle: 'rectRot', pointRadius: 6.5, pointBackgroundColor: '#e8c170', pointBorderColor: '#e8c170' })
  ],
  deco: {
    frame: { w: 2.5 },
    marks: [
      { scale: 'x', edge: 'bottom', vals: [2.5, 5, 7.5, 10], len: 6 },
      { scale: 'y', edge: 'left', vals: [0, 1.5, 3, 4.5, 6], len: 5, dir: 'out' }
    ],
    rules: [
      { x1: 994, y1: 452, x2: 994, y2: 552, color: '#999', w: 1.2 },
      { x1: 1047.5, y1: 450, x2: 1047.5, y2: 551, color: '#999', w: 1.2 },
      { x1: 945, y1: 483.3, x2: 1157, y2: 483.3, color: '#999', w: 1.2 },
      { x1: 945, y1: 518.3, x2: 1157, y2: 518.3, color: '#999', w: 1.2 }
    ],
    legend: [
      { k: 'star', x: 960, y: 464, r: 9, fill: '#fbb713' },
      { k: 'dia', x: 1020, y: 464, r: 8, fill: '#fbb800' },
      { k: 'star', x: 960, y: 503, r: 9, fill: '#ff3d9a' },
      { k: 'dia', x: 1022, y: 503, r: 8, fill: '#ff3a96' }
    ],
    texts: [
      { t: 'QLED part', x: 1058, y: 465, align: 'left' },
      { t: 'PD part', x: 1058, y: 503, align: 'left' },
      { t: 'PTAA', x: 961, y: 536 },
      { t: 'TFB', x: 1023, y: 536 },
      title('Effective bias (V)', 879, 585, true),
      title('Total effective bias (V)', 1096, 789)
    ]
  }
});
</script>
</body>
</html>
